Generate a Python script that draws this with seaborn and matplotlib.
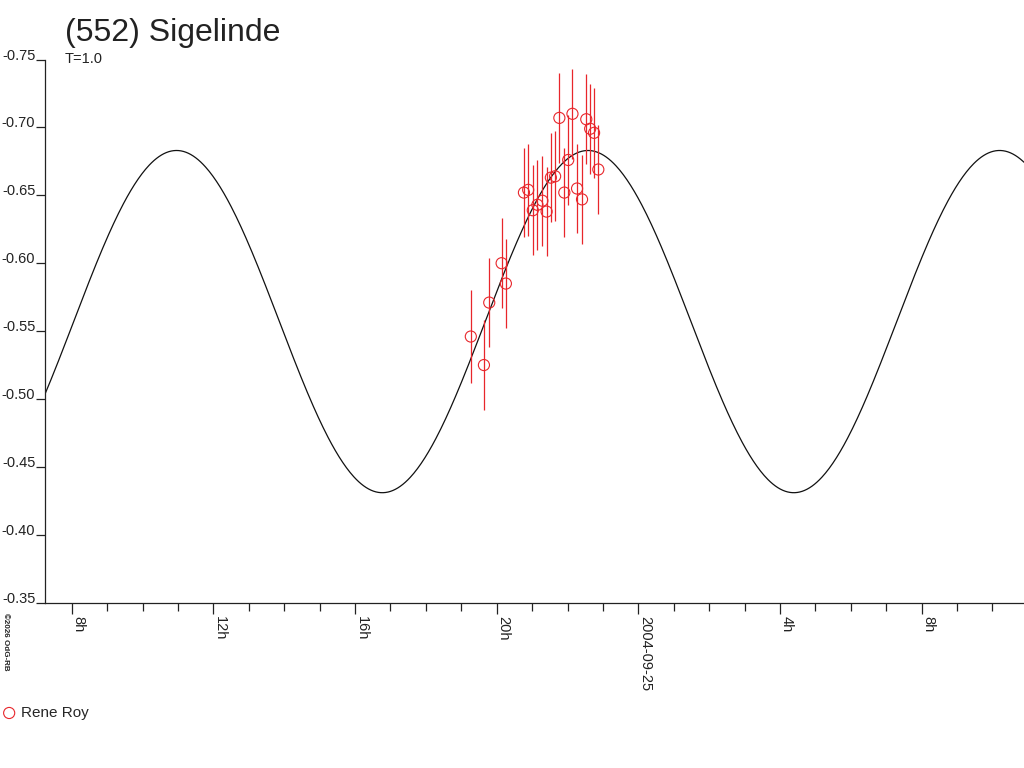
import numpy as np
import pandas as pd
import seaborn as sns
import matplotlib
matplotlib.use("Agg")
import matplotlib.pyplot as plt
from matplotlib.ticker import MultipleLocator

# observaciones: horas desde 2004-09-24 00:00 UT, magnitud relativa y error
obs_hours = [19.27, 19.64, 19.79, 20.14, 20.26, 20.77, 20.89, 21.02, 21.15, 21.29,
             21.41, 21.53, 21.65, 21.77, 21.91, 22.02, 22.14, 22.27, 22.41, 22.53,
             22.64, 22.75, 22.87]
obs_mag = [-0.546, -0.525, -0.571, -0.600, -0.585, -0.652, -0.654, -0.639, -0.643, -0.646,
           -0.638, -0.663, -0.664, -0.707, -0.652, -0.676, -0.710, -0.655, -0.647, -0.706,
           -0.699, -0.696, -0.669]
obs_err = [0.034, 0.033, 0.033, 0.033, 0.033, 0.033, 0.034, 0.033, 0.033, 0.033,
           0.033, 0.033, 0.033, 0.033, 0.033, 0.033, 0.033, 0.033, 0.033, 0.033,
           0.033, 0.033, 0.033]
observer = "Rene Roy"

# curva ajustada (parametros)
fit_period = 11.62   # horas
fit_tmax = 10.96     # hora de un maximo
fit_mean = -0.557
fit_amp = 0.126

x_range = (7.246, 34.89)
x_ticks = [8, 12, 16, 20, 24, 28, 32]
x_labels = ["8h", "12h", "16h", "20h", "2004-09-25", "4h", "8h"]
y_ticks = [-0.75, -0.70, -0.65, -0.60, -0.55, -0.50, -0.45, -0.40, -0.35]

red = "#e8262b"

sns.set_theme(style="ticks")
plt.rcParams["font.family"] = ["Liberation Sans", "DejaVu Sans"]

obs = pd.DataFrame({"h": obs_hours, "mag": obs_mag, "err": obs_err})
t = np.linspace(x_range[0], x_range[1], 800)
fit = pd.DataFrame({"h": t,
                    "mag": fit_mean - fit_amp * np.cos(2 * np.pi * (t - fit_tmax) / fit_period)})

fig = plt.figure(figsize=(10.24, 7.68), dpi=100)
ax = fig.add_axes([45 / 1024, 1 - 602.7 / 768, 1 - 45 / 1024, (602.7 - 59.5) / 768])

sns.lineplot(data=fit, x="h", y="mag", color="#111111", lw=0.9, sort=False,
             estimator=None, ax=ax)
ax.vlines(obs["h"], obs["mag"] - obs["err"], obs["mag"] + obs["err"], color=red, lw=0.9)
sns.scatterplot(data=obs, x="h", y="mag", marker="o", s=64, fc="none", ec=red,
                linewidth=0.8, label=observer, ax=ax, zorder=3)

ax.set_xlim(*x_range)
ax.set_ylim(-0.35, -0.75)
ax.set_xlabel("")
ax.set_ylabel("")
sns.despine(ax=ax)
for s in ("left", "bottom"):
    ax.spines[s].set_color("#222222")
    ax.spines[s].set_linewidth(0.9)

ax.set_xticks(x_ticks, labels=x_labels, rotation=-90, ha="left", va="top")
ax.xaxis.set_minor_locator(MultipleLocator(1))
ax.set_yticks(y_ticks, labels=[f"{v:.2f}" for v in y_ticks], va="baseline")
ax.tick_params(axis="x", which="major", length=8, width=0.9, pad=1.5,
               labelsize=10.5, color="#222222", labelcolor="#222222")
ax.tick_params(axis="x", which="minor", length=6, width=0.9, color="#222222")
ax.tick_params(axis="y", length=6.5, width=0.9, pad=0.5,
               labelsize=10.5, color="#222222", labelcolor="#222222")

ax.get_legend().remove()
h, l = ax.get_legend_handles_labels()
fig.legend(h, l, loc="center left", bbox_to_anchor=(0.0, 1 - 713 / 768), frameon=False,
           fontsize=11, handlelength=0.8, handletextpad=0.4, borderpad=0.2,
           borderaxespad=0)

fig.text(65 / 1024, 1 - 41 / 768, "(552) Sigelinde", fontsize=23, va="baseline",
         ha="left", color="#222222")
fig.text(65 / 1024, 1 - 63 / 768, "T=1.0", fontsize=10.5, va="baseline",
         ha="left", color="#222222")
fig.text(0.002, 1 - 613 / 768, "©2026 OdG-RB", rotation=-90, fontsize=5.8,
         weight="bold", ha="left", va="top", color="#222222")

fig.savefig("out.png", dpi=100)
